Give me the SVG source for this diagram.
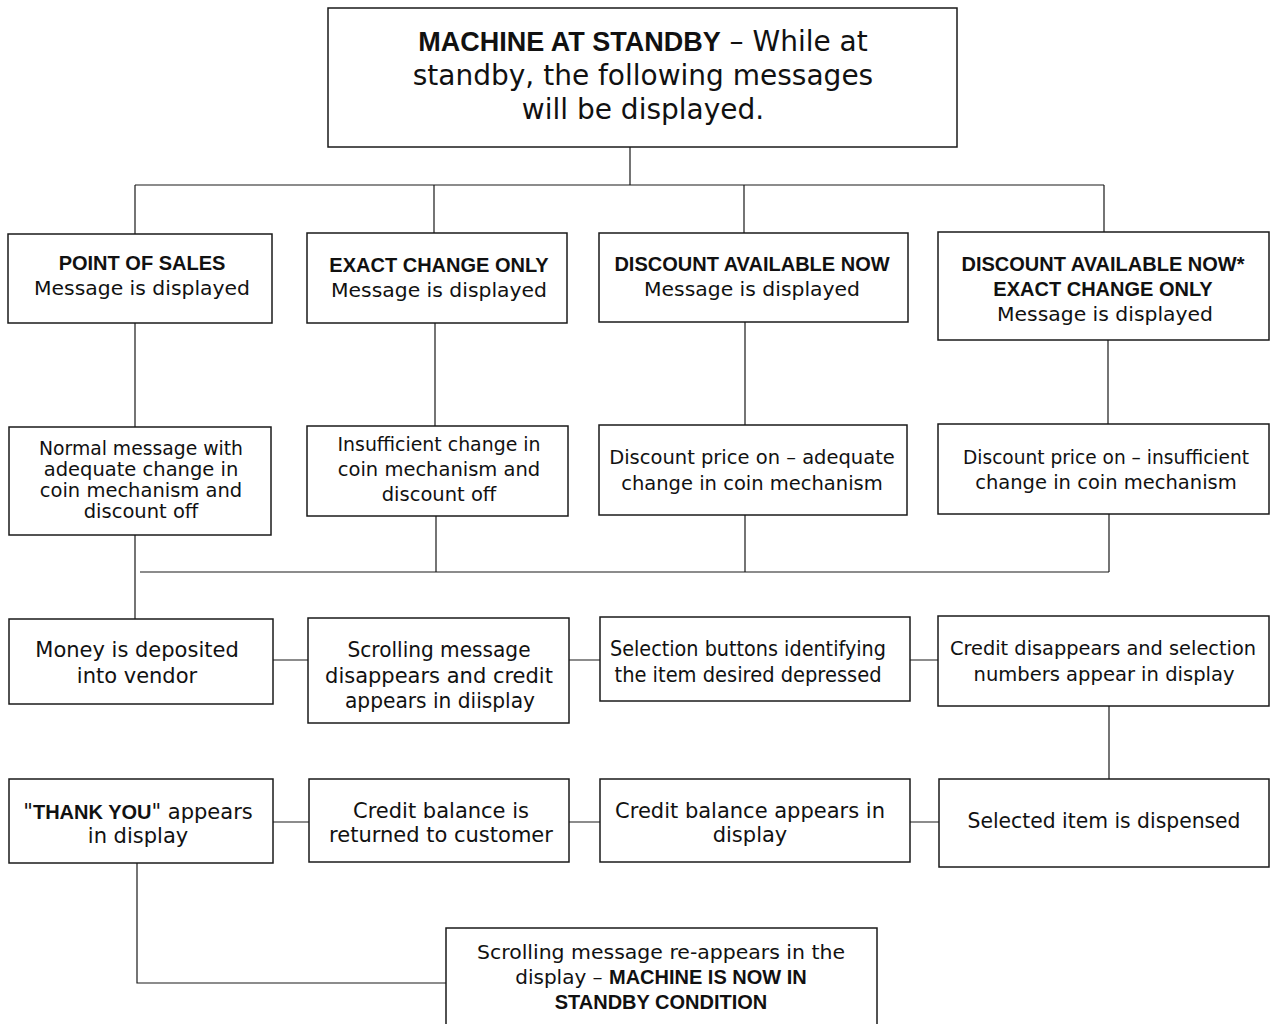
<svg xmlns="http://www.w3.org/2000/svg" width="1270" height="1024" viewBox="0 0 1270 1024">
<style>
.box{fill:#fff;stroke:#1a1a1a;stroke-width:1.5}
.ln{fill:none;stroke:#1a1a1a;stroke-width:1.2}
text{font-family:"DejaVu Sans","Liberation Sans",sans-serif;fill:#111;text-anchor:middle}
.b{font-family:"Liberation Sans","DejaVu Sans",sans-serif;font-weight:bold}
.r1{font-size:20px}
.r2{font-size:19.5px}
.r3{font-size:21px}
.t{font-size:28px}
</style>
<rect width="1270" height="1024" fill="#fff"/>
<g id="connectors">
<path class="ln" d="M630,147V185M135,185H1104M135,185V234M434,185V233M744,185V233M1104,185V232"/>
<path class="ln" d="M135,323V427M435,323V426M745,322V425M1108,340V424"/>
<path class="ln" d="M135,535V619M140,572H1109M436,516V572M745,515V572M1109,514V572"/>
<path class="ln" d="M273,660H308M569,660H600M910,660H938M1109,706V779"/>
<path class="ln" d="M273,822H309M569,822H600M910,822H939M137,863V983H446"/>
</g>
<g id="standby">
<rect class="box" x="328" y="8" width="629" height="139"/>
<text class="t" x="643" y="51"><tspan class="b" font-size="27">MACHINE AT STANDBY</tspan> – While at</text>
<text class="t" x="643" y="85">standby, the following messages</text>
<text class="t" x="643" y="119">will be displayed.</text>
</g>
<g id="pos">
<rect class="box" x="8" y="234" width="264" height="89"/>
<text class="r1 b" x="142" y="270">POINT OF SALES</text>
<text class="r1" x="142" y="295" textLength="216" lengthAdjust="spacingAndGlyphs">Message is displayed</text>
</g>
<g id="exact">
<rect class="box" x="307" y="233" width="260" height="90"/>
<text class="r1 b" x="439" y="272">EXACT CHANGE ONLY</text>
<text class="r1" x="439" y="297" textLength="216" lengthAdjust="spacingAndGlyphs">Message is displayed</text>
</g>
<g id="discount">
<rect class="box" x="599" y="233" width="309" height="89"/>
<text class="r1 b" x="752" y="271">DISCOUNT AVAILABLE NOW</text>
<text class="r1" x="752" y="296" textLength="216" lengthAdjust="spacingAndGlyphs">Message is displayed</text>
</g>
<g id="discount-exact">
<rect class="box" x="938" y="232" width="331" height="108"/>
<text class="r1 b" x="1103" y="271">DISCOUNT AVAILABLE NOW*</text>
<text class="r1 b" x="1103" y="296">EXACT CHANGE ONLY</text>
<text class="r1" x="1105" y="321" textLength="216" lengthAdjust="spacingAndGlyphs">Message is displayed</text>
</g>
<g id="normal">
<rect class="box" x="9" y="427" width="262" height="108"/>
<text class="r2" x="141" y="455" textLength="204" lengthAdjust="spacingAndGlyphs">Normal message with</text>
<text class="r2" x="141" y="476">adequate change in</text>
<text class="r2" x="141" y="497">coin mechanism and</text>
<text class="r2" x="141" y="518">discount off</text>
</g>
<g id="insufficient">
<rect class="box" x="307" y="426" width="261" height="90"/>
<text class="r2" x="439" y="451" textLength="203" lengthAdjust="spacingAndGlyphs">Insufficient change in</text>
<text class="r2" x="439" y="476">coin mechanism and</text>
<text class="r2" x="439" y="501">discount off</text>
</g>
<g id="discount-adequate">
<rect class="box" x="599" y="425" width="308" height="90"/>
<text class="r2" x="752" y="464">Discount price on – adequate</text>
<text class="r2" x="752" y="490">change in coin mechanism</text>
</g>
<g id="discount-insufficient">
<rect class="box" x="938" y="424" width="331" height="90"/>
<text class="r2" x="1106" y="464" textLength="286" lengthAdjust="spacingAndGlyphs">Discount price on – insufficient</text>
<text class="r2" x="1106" y="489">change in coin mechanism</text>
</g>
<g id="money">
<rect class="box" x="9" y="619" width="264" height="85"/>
<text class="r3" x="137" y="657">Money is deposited</text>
<text class="r3" x="137" y="683">into vendor</text>
</g>
<g id="scrolling">
<rect class="box" x="308" y="618" width="261" height="105"/>
<text class="r3" x="439" y="657" textLength="183" lengthAdjust="spacingAndGlyphs">Scrolling message</text>
<text class="r3" x="439" y="683">disappears and credit</text>
<text class="r3" x="440" y="708" textLength="190" lengthAdjust="spacingAndGlyphs">appears in diisplay</text>
</g>
<g id="selection">
<rect class="box" x="600" y="617" width="310" height="84"/>
<text class="r3" x="748" y="656" textLength="276" lengthAdjust="spacingAndGlyphs">Selection buttons identifying</text>
<text class="r3" x="748" y="682" textLength="267" lengthAdjust="spacingAndGlyphs">the item desired depressed</text>
</g>
<g id="credit-disappears">
<rect class="box" x="938" y="616" width="331" height="90"/>
<text x="1103" y="655" font-size="20" textLength="306" lengthAdjust="spacingAndGlyphs">Credit disappears and selection</text>
<text x="1104" y="681" font-size="20" textLength="261" lengthAdjust="spacingAndGlyphs">numbers appear in display</text>
</g>
<g id="thankyou">
<rect class="box" x="9" y="779" width="264" height="84"/>
<text class="r3" x="138" y="819">"<tspan class="b" font-size="20">THANK YOU</tspan>" appears</text>
<text class="r3" x="138" y="843">in display</text>
</g>
<g id="credit-returned">
<rect class="box" x="309" y="779" width="260" height="83"/>
<text class="r3" x="441" y="818">Credit balance is</text>
<text class="r3" x="441" y="842">returned to customer</text>
</g>
<g id="credit-appears">
<rect class="box" x="600" y="779" width="310" height="83"/>
<text class="r3" x="750" y="818">Credit balance appears in</text>
<text class="r3" x="750" y="842">display</text>
</g>
<g id="dispensed">
<rect class="box" x="939" y="779" width="330" height="88"/>
<text class="r3" x="1104" y="828" textLength="273" lengthAdjust="spacingAndGlyphs">Selected item is dispensed</text>
</g>
<g id="standby-again">
<rect class="box" x="446" y="928" width="431" height="110"/>
<text class="r1" x="661" y="959" font-size="20.5" textLength="368" lengthAdjust="spacingAndGlyphs">Scrolling message re-appears in the</text>
<text class="r1" x="661" y="984" font-size="20.5">display – <tspan class="b" font-size="20">MACHINE IS NOW IN</tspan></text>
<text class="r1 b" x="661" y="1009">STANDBY CONDITION</text>
</g>
</svg>
